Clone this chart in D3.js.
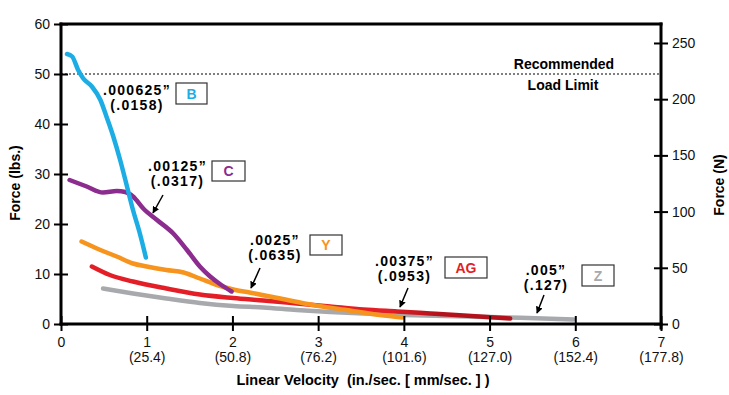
<!DOCTYPE html>
<html>
<head>
<meta charset="utf-8">
<script src="https://cdn.jsdelivr.net/npm/d3@7"></script>
<style>
  body { margin: 0; background: #fff; }
  text { font-family: "Liberation Sans", Arial, sans-serif; }
</style>
</head>
<body>
<div id="container"></div>
<script>
// data: [velocity in/sec, force lbs]
const curveB = [[0.07,54],[0.13,53.5],[0.2,50.8],[0.26,49.1],[0.36,47.5],[0.46,44.8],[0.53,41.5],[0.61,37.5],[0.69,32.8],[0.77,27.5],[0.84,22.8],[0.92,18.1],[0.99,13.3]];
const curveC = [[0.1,28.8],[0.3,27.5],[0.49,26.3],[0.65,26.6],[0.75,26.4],[0.84,25.5],[0.96,23.1],[1.12,20.8],[1.31,18.1],[1.47,14.8],[1.62,11.5],[1.74,9.5],[1.87,7.8],[1.99,6.5]];
const curveY = [[0.24,16.5],[0.46,14.8],[0.65,13.5],[0.84,12.1],[1.0,11.5],[1.23,10.8],[1.43,10.3],[1.62,9.1],[1.82,7.8],[2.01,6.9],[2.2,6.3],[2.56,5.1],[2.94,3.8],[3.33,2.8],[3.72,1.8],[3.98,1.3]];
const curveAG = [[0.36,11.5],[0.57,9.8],[0.84,8.5],[1.23,7.1],[1.62,5.9],[2.01,5.2],[2.36,4.7],[2.75,4.1],[3.14,3.5],[3.53,2.9],[3.92,2.5],[4.31,2.1],[4.7,1.7],[5.24,1.1]];
const curveZ = [[0.49,7.1],[0.84,6.1],[1.23,5.1],[1.62,4.2],[2.01,3.6],[2.36,3.3],[2.75,2.8],[3.14,2.4],[3.53,2.1],[4.0,1.8],[4.77,1.5],[5.36,1.25],[5.98,0.9]];

const seriesNames = ["Z","AG","Y","C","B"];
const seriesColors = ["#a7a9ac","#e41e26","#f7941d","#8b2c8e","#1cade4"];
const seriesData = [curveZ, curveAG, curveY, curveC, curveB];

const xTicks = [0,1,2,3,4,5,6,7];
const mmLabels = ["","(25.4)","(50.8)","(76.2)","(101.6)","(127.0)","(152.4)","(177.8)"];
const lbsTicks = [0,10,20,30,40,50,60];
const newtonTicks = [0,50,100,150,200,250];
const loadLimit = 50;
const lbsToN = 4.448;

// annotation layout (pixels)
const notes = [
  {code:"B",  inch:".000625\u201d", mm:"(.0158)", cx:137,   y1:95,  bx:176, by:83,  bw:31, bh:21, arrow:null},
  {code:"C",  inch:".00125\u201d",  mm:"(.0317)", cx:177.5, y1:171, bx:212, by:161, bw:33, bh:20, arrow:[163,195,153,213]},
  {code:"Y",  inch:".0025\u201d",   mm:"(.0635)", cx:275,   y1:245, bx:310, by:235, bw:32, bh:20, arrow:[260,268,251,288]},
  {code:"AG", inch:".00375\u201d",  mm:"(.0953)", cx:404.5, y1:266, bx:445, by:257, bw:42, bh:21, arrow:[408,288,400,307]},
  {code:"Z",  inch:".005\u201d",    mm:"(.127)",  cx:546,   y1:275, bx:582, by:265, bw:32, bh:21, arrow:[544,295,537,313]}
];

const W = 729, H = 395;
const m = {left:61, right:68, top:24, bottom:71};

let viz = d3.select("#container")
  .append("svg")
    .attr("width", W)
    .attr("height", H);

let x = d3.scaleLinear().domain([0,7]).range([m.left, W - m.right]);
let y = d3.scaleLinear().domain([0,60]).range([H - m.bottom, m.top]);
let yN = d3.scaleLinear().domain([0, 60 * lbsToN]).range([H - m.bottom, m.top]);

let colorOf = d3.scaleOrdinal().domain(seriesNames).range(seriesColors);

// load limit dotted line
viz.append("line")
    .attr("x1", x(0)).attr("x2", x(7))
    .attr("y1", y(loadLimit)).attr("y2", y(loadLimit))
    .attr("stroke", "black")
    .attr("stroke-width", 1)
    .attr("stroke-dasharray", "2,2");

viz.append("text")
    .text("Recommended")
    .attr("x", 564).attr("y", y(loadLimit) - 5)
    .attr("text-anchor", "middle")
    .attr("font-weight", "bold")
    .attr("font-size", 14);

viz.append("text")
    .text("Load Limit")
    .attr("x", 563).attr("y", y(loadLimit) + 16)
    .attr("text-anchor", "middle")
    .attr("font-weight", "bold")
    .attr("font-size", 14);

// red curve darkens toward its end
let grad = viz.append("defs").append("linearGradient")
    .attr("id", "agGrad")
    .attr("gradientUnits", "userSpaceOnUse")
    .attr("x1", x(3.8)).attr("x2", x(4.4))
    .attr("y1", 0).attr("y2", 0);
grad.append("stop").attr("offset", 0).attr("stop-color", "#e41e26");
grad.append("stop").attr("offset", 1).attr("stop-color", "#b3121c");

// curves
let line = d3.line()
    .x(d => x(d[0]))
    .y(d => y(d[1]))
    .curve(d3.curveMonotoneX);

seriesNames.forEach((name, i) => {
  viz.append("path")
      .datum(seriesData[i])
      .attr("d", line)
      .attr("fill", "none")
      .attr("stroke", name === "AG" ? "url(#agGrad)" : colorOf(name))
      .attr("stroke-width", 4.5)
      .attr("stroke-linecap", "round")
      .attr("stroke-linejoin", "round");
});

// frame top
viz.append("line")
    .attr("x1", x(0)).attr("x2", x(7))
    .attr("y1", m.top).attr("y2", m.top)
    .attr("stroke", "black")
    .attr("stroke-width", 3)
    .attr("stroke-linecap", "square");

// left axis
let leftAxis = viz.append("g")
    .attr("transform", `translate(${x(0)},0)`)
    .call(d3.axisLeft(y).tickValues(lbsTicks).tickSize(7).tickPadding(4));
leftAxis.selectAll(".tick line").attr("x1", -7).attr("x2", 7);

// right axis
let rightAxis = viz.append("g")
    .attr("transform", `translate(${x(7)},0)`)
    .call(d3.axisRight(yN).tickValues(newtonTicks).tickSize(7).tickPadding(4));
rightAxis.selectAll(".tick line").attr("x1", -7);

// bottom axis
let bottomAxis = viz.append("g")
    .attr("transform", `translate(0,${y(0)})`)
    .call(d3.axisBottom(x).tickValues(xTicks).tickSize(7).tickPadding(6).tickFormat(d3.format("d")));
bottomAxis.selectAll(".tick line").attr("y1", -8);
bottomAxis.selectAll(".tick")
  .append("text")
    .text((d, i) => mmLabels[i])
    .attr("y", 38)
    .attr("fill", "black")
    .attr("text-anchor", "middle");

[leftAxis, rightAxis, bottomAxis].forEach(g => {
  g.select(".domain").attr("stroke-width", 3).attr("stroke-linecap", "square");
  g.selectAll(".tick line").attr("stroke-width", 2);
  g.selectAll("text")
      .attr("font-family", "Liberation Sans, Arial, sans-serif")
      .attr("font-size", 14)
      .attr("fill", "#111");
});
leftAxis.select(".domain").attr("d", `M0,${m.top}V${y(0)}`);
rightAxis.select(".domain").attr("d", `M0,${m.top}V${y(0) + 4}`);
bottomAxis.select(".domain").attr("d", `M${x(0)},0H${x(7)}`);

// axis titles
viz.append("text")
    .text("Linear Velocity  (in./sec. [ mm/sec. ] )")
    .attr("x", 363).attr("y", 385)
    .attr("text-anchor", "middle")
    .attr("font-weight", "bold")
    .attr("font-size", 14.5)
    .attr("xml:space", "preserve")
    .style("white-space", "pre");

viz.append("text")
    .text("Force (lbs.)")
    .attr("transform", "translate(20,183) rotate(-90)")
    .attr("text-anchor", "middle")
    .attr("font-weight", "bold")
    .attr("font-size", 14);

viz.append("text")
    .text("Force (N)")
    .attr("transform", "translate(724,185) rotate(-90)")
    .attr("text-anchor", "middle")
    .attr("font-weight", "bold")
    .attr("font-size", 14);

// arrow head
viz.select("defs").append("marker")
    .attr("id", "head")
    .attr("viewBox", "0 0 10 10")
    .attr("refX", 9).attr("refY", 5)
    .attr("markerWidth", 7).attr("markerHeight", 7)
    .attr("markerUnits", "userSpaceOnUse")
    .attr("orient", "auto")
  .append("path")
    .attr("d", "M0,0L10,5L0,10z")
    .attr("fill", "black");

// annotations
notes.forEach(n => {
  viz.append("text")
      .text(n.inch)
      .attr("x", n.cx).attr("y", n.y1)
      .attr("text-anchor", "middle")
      .attr("font-weight", "bold")
      .attr("font-size", 14)
      .attr("letter-spacing", 1.3);
  viz.append("text")
      .text(n.mm)
      .attr("x", n.cx).attr("y", n.y1 + 15)
      .attr("text-anchor", "middle")
      .attr("font-weight", "bold")
      .attr("font-size", 14)
      .attr("letter-spacing", 1.3);
  viz.append("rect")
      .attr("x", n.bx).attr("y", n.by)
      .attr("width", n.bw).attr("height", n.bh)
      .attr("fill", "white")
      .attr("stroke", "#333")
      .attr("stroke-width", 1.2);
  viz.append("text")
      .text(n.code)
      .attr("x", n.bx + n.bw / 2).attr("y", n.by + n.bh / 2 + 5)
      .attr("text-anchor", "middle")
      .attr("font-weight", "bold")
      .attr("font-size", 14)
      .attr("fill", colorOf(n.code));
  if (n.arrow) {
    viz.append("line")
        .attr("x1", n.arrow[0]).attr("y1", n.arrow[1])
        .attr("x2", n.arrow[2]).attr("y2", n.arrow[3])
        .attr("stroke", "black")
        .attr("stroke-width", 1.5)
        .attr("marker-end", "url(#head)");
  }
});
</script>
</body>
</html>
